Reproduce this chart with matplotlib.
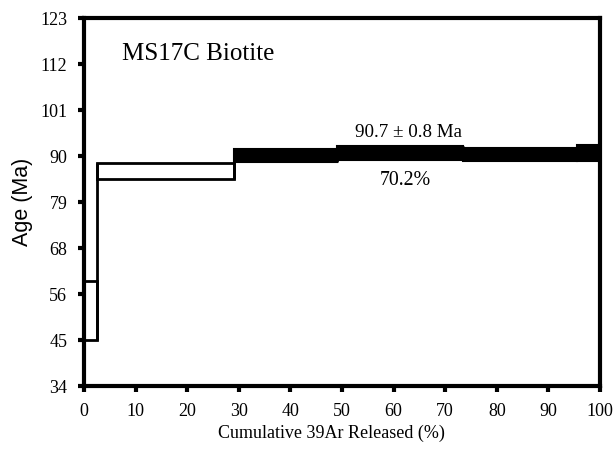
import matplotlib
matplotlib.use("Agg")
import matplotlib.pyplot as plt
import numpy as np

# Step data: cumulative 39Ar release start/end (%), apparent age (Ma), 2-sigma half-width (Ma)
step_start = [0.0, 2.6, 29.1, 49.0, 73.4, 95.5]
step_end   = [2.6, 29.1, 49.0, 73.4, 95.5, 100.0]
step_age   = [52.3, 86.0, 89.7, 90.3, 89.9, 90.3]
step_err   = [7.2, 1.9, 1.5, 1.7, 1.6, 2.0]
in_plateau = [False, False, True, True, True, True]

ytick_vals = list(np.linspace(34, 123, 9))
ytick_labels = ['34', '45', '56', '68', '79', '90', '101', '112', '123']
xtick_vals = [0, 10, 20, 30, 40, 50, 60, 70, 80, 90, 100]

title_text = "MS17C Biotite"
plateau_age_text = "90.7 \u00b1 0.8 Ma"
plateau_frac_text = "70.2%"

plt.rcParams['font.family'] = ['Liberation Serif', 'DejaVu Serif']

fig = plt.figure(figsize=(6.15, 4.49), dpi=100)
ax = fig.add_axes([0.1366, 0.1403, 0.839, 0.8196])

starts = np.array(step_start)
ends = np.array(step_end)
ages = np.array(step_age)
errs = np.array(step_err)
mask = np.array(in_plateau)
lows = ages - errs
highs = ages + errs

ax.bar(starts[~mask], 2 * errs[~mask], width=(ends - starts)[~mask],
       bottom=lows[~mask], align='edge',
       facecolor='white', edgecolor='black', linewidth=2.0, zorder=2)
ax.bar(starts[mask], 2 * errs[mask], width=(ends - starts)[mask],
       bottom=lows[mask], align='edge',
       facecolor='black', edgecolor='black', linewidth=1.5, zorder=3)

# connecting vertical lines between consecutive steps
for i in range(len(starts) - 1):
    lo = min(lows[i], lows[i + 1])
    hi = max(highs[i], highs[i + 1])
    ax.vlines(ends[i], lo, hi, colors='black', linewidth=2.0, zorder=2)

ax.set_xlim(0, 100)
ax.set_ylim(34, 123)
ax.set_yticks(ytick_vals)
ax.set_yticklabels(ytick_labels)
ax.set_xticks(xtick_vals)

for s in ax.spines.values():
    s.set_linewidth(3)
ax.tick_params(axis='both', direction='out', length=4, width=3, labelsize=13)
ax.tick_params(axis='y', pad=8)
ax.tick_params(axis='x', pad=8)

ax.set_xlabel("Cumulative 39Ar Released (%)", fontsize=13)
ax.xaxis.set_label_coords(0.48, -0.105)
ax.set_ylabel("Age (Ma)", fontsize=15.5, family=['Liberation Sans', 'DejaVu Sans'])
ax.yaxis.set_label_coords(-0.098, 0.5)

ax.text(7.4, 114.3, title_text, fontsize=18, ha='left', va='center')
ax.text(62.8, 95.2, plateau_age_text, fontsize=13.7, ha='center', va='center')
ax.text(62.2, 83.8, plateau_frac_text, fontsize=14.3, ha='center', va='center')

fig.savefig("out.png", dpi=100, facecolor='white')
